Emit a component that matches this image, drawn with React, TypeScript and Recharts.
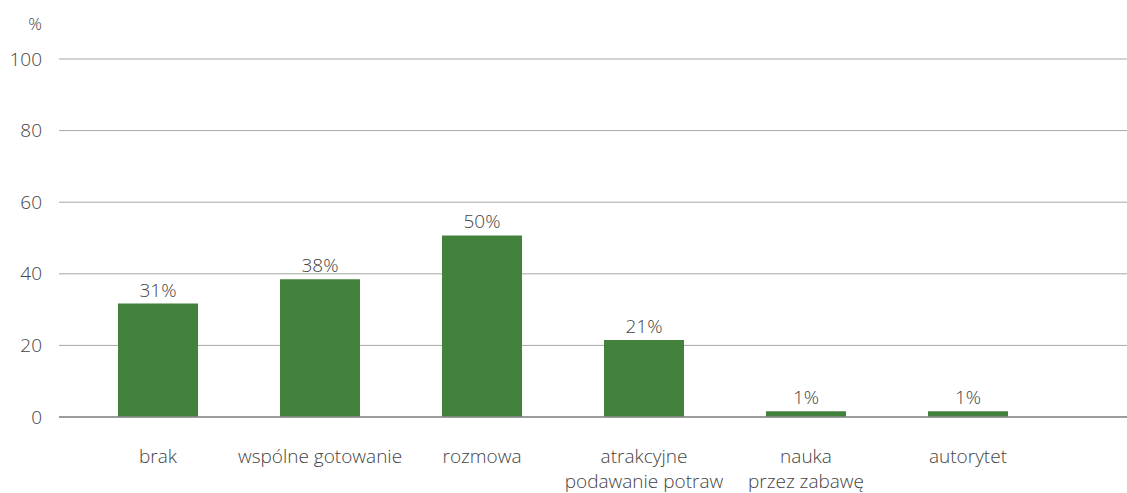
import React from "react";
import { BarChart, Bar, XAxis, YAxis, CartesianGrid, LabelList } from "recharts";

// answers (share of respondents, %)
const categories = [
  "brak",
  "wspólne gotowanie",
  "rozmowa",
  "atrakcyjne\npodawanie potraw",
  "nauka\nprzez zabawę",
  "autorytet",
];
const values = [31.7, 38.5, 50.7, 21.5, 1.6, 1.6];
const valueLabels = ["31%", "38%", "50%", "21%", "1%", "1%"];
const yTicks = [0, 20, 40, 60, 80, 100];

const data = categories.map((name, i) => ({
  name,
  value: values[i],
  label: valueLabels[i],
}));

const FONT = "'Open Sans', 'Noto Sans', sans-serif";
const TEXT = "#444444";
const FS = 19;

const CategoryTick = ({ x, y, payload }: any) => {
  const lines = String(payload.value).split("\n");
  return (
    <text
      x={x}
      y={y}
      textAnchor="middle"
      fill={TEXT}
      fontFamily={FONT}
      fontWeight={300}
      fontSize={FS}
    >
      {lines.map((line, i) => (
        <tspan key={i} x={x} dy={i === 0 ? 46 : 25}>
          {line}
        </tspan>
      ))}
    </text>
  );
};

const ValueTick = ({ x, y, payload }: any) => (
  <text
    x={x}
    y={y}
    dy={6.5}
    textAnchor="end"
    fill={TEXT}
    fontFamily={FONT}
    fontWeight={300}
    fontSize={FS}
  >
    {payload.value}
  </text>
);

const App = () => {
  return (
    <div style={{ position: "absolute", left: 0, top: 0 }}>
      <BarChart
        width={1127}
        height={493}
        data={data}
        margin={{ top: 59, right: 0, bottom: 0, left: 0 }}
      >
        <CartesianGrid vertical={false} stroke="#a6a6a6" strokeWidth={1} />
        <XAxis
          dataKey="name"
          height={76}
          interval={0}
          tickLine={false}
          tickSize={0}
          tickMargin={0}
          axisLine={{ stroke: "#8a8a8a", strokeWidth: 1.5 }}
          padding={{ left: 18, right: 78 }}
          tick={<CategoryTick />}
        />
        <YAxis
          width={59}
          domain={[0, 100]}
          ticks={yTicks}
          axisLine={false}
          tickLine={false}
          tickSize={0}
          tickMargin={17}
          tick={<ValueTick />}
          label={{
            content: ({ viewBox }: any) => (
              <text
                x={viewBox.x + viewBox.width - 17}
                y={viewBox.y - 29}
                textAnchor="end"
                fill={TEXT}
                fontFamily={FONT}
                fontWeight={300}
                fontSize={17}
              >
                %
              </text>
            ),
          }}
        />
        <Bar dataKey="value" fill="#43823c" barSize={80} isAnimationActive={false}>
          <LabelList
            dataKey="label"
            position="top"
            offset={7}
            fill={TEXT}
            fontFamily={FONT}
            fontWeight={300}
            fontSize={FS}
          />
        </Bar>
      </BarChart>
    </div>
  );
};

export default App;
